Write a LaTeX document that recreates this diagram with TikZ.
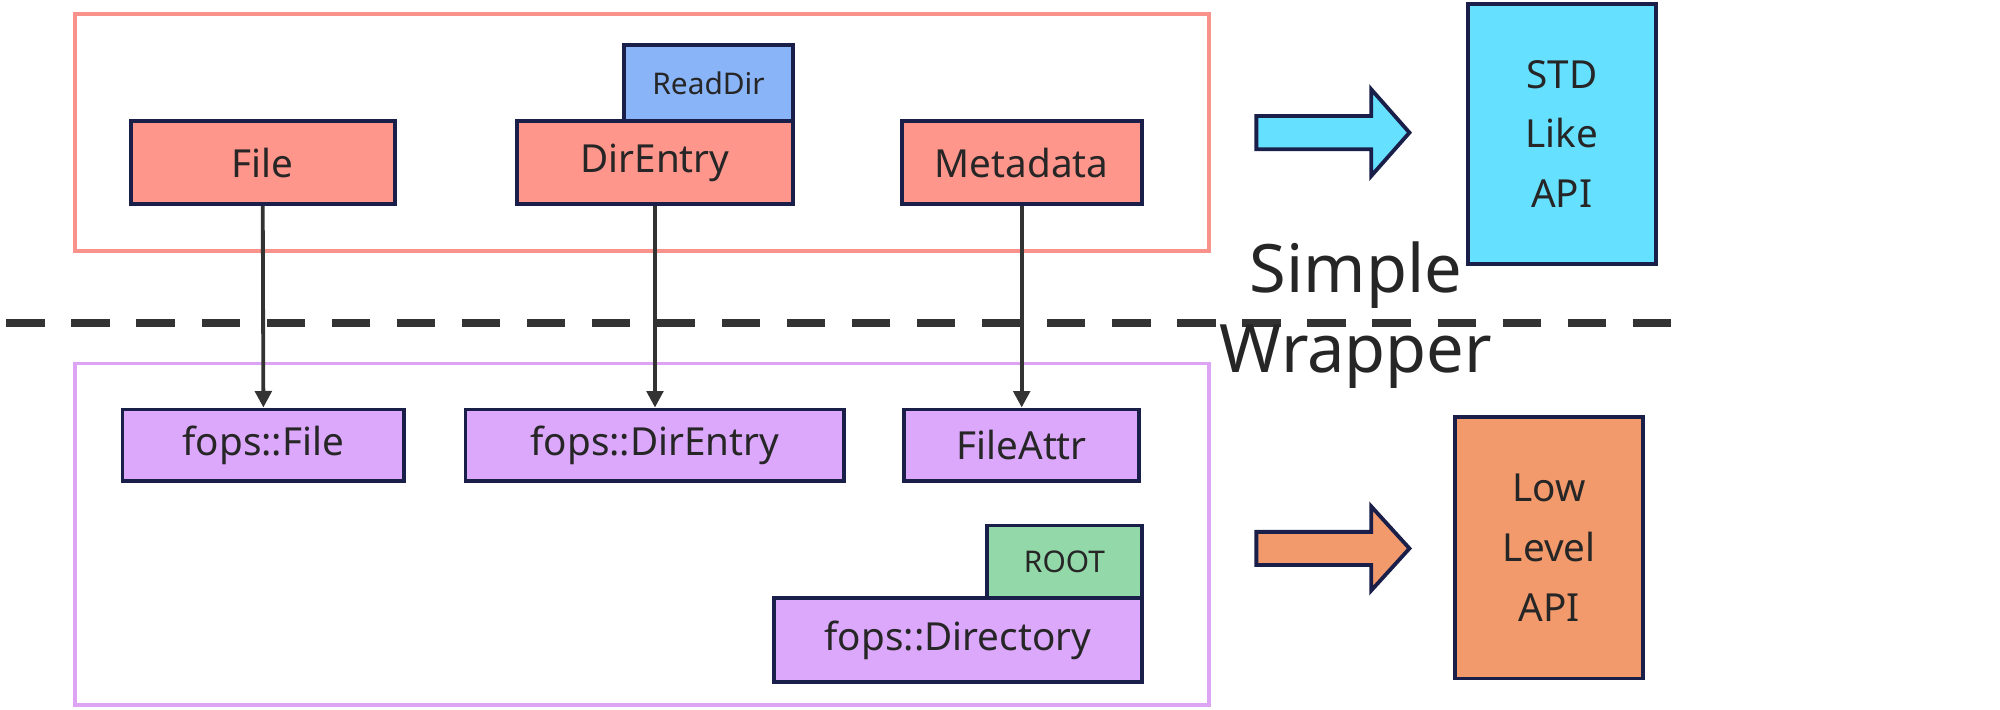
\documentclass[tikz,border=0pt]{standalone}
\usepackage{fontspec}
\setmainfont{Noto Sans}
\usetikzlibrary{arrows.meta}
\newlength\pxu
\setlength\pxu{0.01276cm}
\definecolor{frameRed}{HTML}{F8928A}
\definecolor{framePurple}{HTML}{DDA4F4}
\definecolor{boxRed}{HTML}{FF968C}
\definecolor{boxBlue}{HTML}{8AB4F8}
\definecolor{boxPurple}{HTML}{DCA8FC}
\definecolor{boxGreen}{HTML}{92D8A8}
\definecolor{boxCyan}{HTML}{66E0FF}
\definecolor{boxOrange}{HTML}{F29A6C}
\definecolor{edge}{HTML}{1A1F4A}
\definecolor{ink}{HTML}{333333}
\tikzset{
  box/.style={draw=edge, line width=3\pxu, font=\bfseries\fontsize{11}{13}\selectfont,
    text=black!85, inner sep=0pt},
  tag/.style={box, font=\bfseries\fontsize{8.5}{10}\selectfont},
  api/.style={box, align=center, font=\bfseries\fontsize{11}{17}\selectfont},
  link/.style={draw=ink, line width=3\pxu, -{Triangle[length=4.7pt,width=4.7pt]}},
  blk/.style={draw=edge, line width=3\pxu, line join=miter}
}
\begin{document}
\begin{tikzpicture}[x=\pxu, y=-\pxu]
\useasboundingbox (0,0) rectangle (1568,556);
% Rahmen
\draw[frameRed, line width=3\pxu] (59,11) rectangle (948,197);
\draw[framePurple, line width=3\pxu] (59,285) rectangle (948,553);
\draw[ink, line width=6\pxu, dash pattern=on 30\pxu off 21\pxu] (5,253) -- (1312,253);
\node[font=\bfseries\fontsize{19}{22}\selectfont, text=black!85] (simple) at (1063,216) {Simple};
\node[font=\bfseries\fontsize{19}{22}\selectfont, text=black!85] (wrapper) at (1063,280) {Wrapper};
% obere Ebene
\node[box, fill=boxRed, minimum width=207\pxu, minimum height=65\pxu] (file) at (206,127.5) {File};
\node[box, fill=boxRed, minimum width=217\pxu, minimum height=65\pxu] (direntry) at (513.5,127.5) {DirEntry};
\node[tag, fill=boxBlue, minimum width=133\pxu, minimum height=60\pxu] (readdir) at (555.5,65) {ReadDir};
\node[box, fill=boxRed, minimum width=188\pxu, minimum height=65\pxu] (metadata) at (801,127.5) {Metadata};
% untere Ebene
\node[box, fill=boxPurple, minimum width=221\pxu, minimum height=56\pxu] (fopsfile) at (206.5,349) {fops::File};
\node[box, fill=boxPurple, minimum width=297\pxu, minimum height=56\pxu] (fopsdir) at (513.5,349) {fops::DirEntry};
\node[box, fill=boxPurple, minimum width=184\pxu, minimum height=56\pxu] (fileattr) at (801,349) {FileAttr};
\node[tag, fill=boxGreen, minimum width=121\pxu, minimum height=57\pxu] (root) at (834.5,440.5) {ROOT};
\node[box, fill=boxPurple, minimum width=288\pxu, minimum height=66\pxu] (directory) at (751,502) {fops::Directory};
% Pfeile
\draw[link] (file.south) -- (fopsfile.north);
\draw[link] (direntry.south) -- (fopsdir.north);
\draw[link] (metadata.south) -- (fileattr.north);
% API
\node[api, fill=boxCyan, minimum width=147\pxu, minimum height=204\pxu] (std) at (1224.5,105) {STD\\Like\\API};
\node[api, fill=boxOrange, minimum width=147\pxu, minimum height=205\pxu] (low) at (1214.5,429.5) {Low\\Level\\API};
\draw[blk, fill=boxCyan] (985,91) -- (1075,91) -- (1075,70) -- (1105,104) -- (1075,138) -- (1075,117) -- (985,117) -- cycle;
\draw[blk, fill=boxOrange] (985,417) -- (1075,417) -- (1075,397) -- (1105,430) -- (1075,463) -- (1075,443) -- (985,443) -- cycle;
\end{tikzpicture}
\end{document}
